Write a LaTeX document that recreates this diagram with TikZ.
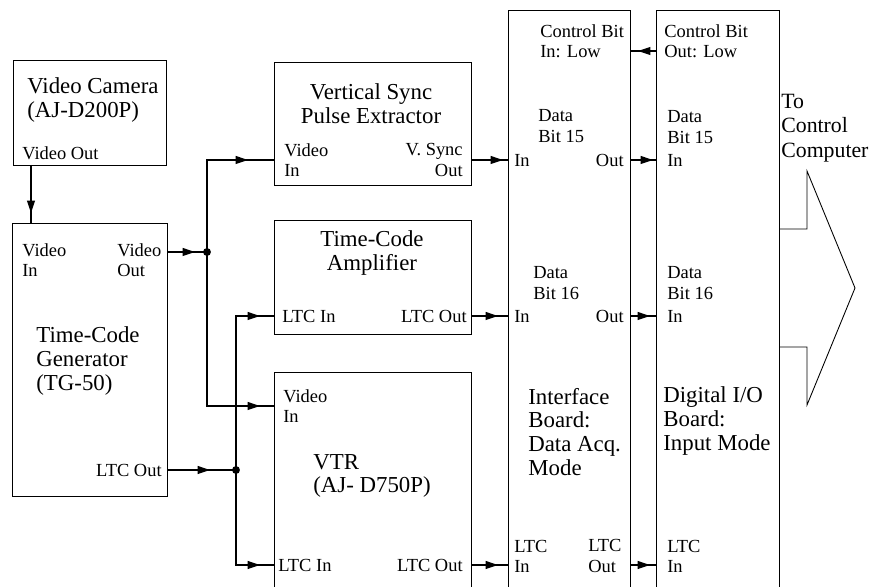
\documentclass[tikz,border=0pt]{standalone}
\usepackage{fontspec}
\setmainfont{Liberation Serif}
\usetikzlibrary{arrows.meta,decorations.markings}

\tikzset{
    blk/.style={draw, line width=0.6pt, rectangle, anchor=north west, inner sep=0pt},
    lbl/.style={inner sep=0pt, font=\fontsize{10.5}{11.5}\selectfont, align=left},
    ttl/.style={inner sep=0pt, font=\fontsize{13}{13.6}\selectfont, align=left},
    dot/.style={circle, fill, inner sep=0pt, minimum size=4.5pt},
    sig/.style={line width=0.6pt, postaction={decorate},
        decoration={markings, mark=at position -#1 with {\arrow{Triangle[length=7pt,width=4.5pt]}}}},
    sig/.default=0.2cm
}

\begin{document}
\begin{tikzpicture}[x=0.02cm, y=-0.02cm]
    \useasboundingbox (0,0) rectangle (873,587);

    \node[blk, minimum width=3.06cm, minimum height=2.1cm] (cam) at (13,60) {};
    \node[ttl, anchor=west] (camname) at (27,100) {Video Camera\\(AJ-D200P)};
    \node[lbl, anchor=west] (camout) at (22,153) {Video Out};

    \node[blk, minimum width=3.1cm, minimum height=5.46cm] (tg) at (12,223) {};
    \node[lbl, anchor=west] (tgvin) at (22,260) {Video\\In};
    \node[lbl, anchor=west] (tgvout) at (117,260) {Video\\Out};
    \node[ttl, anchor=west] (tgname) at (36,361) {Time-Code\\Generator\\(TG-50)};
    \node[lbl, anchor=east] (tglout) at (162,470) {LTC Out};

    \node[blk, minimum width=3.94cm, minimum height=2.46cm] (vs) at (274,62) {};
    \node[ttl, align=center] (vsname) at (371,104) {Vertical Sync\\Pulse Extractor};
    \node[lbl, anchor=west] (vsvin) at (284,160) {Video\\In};
    \node[lbl, anchor=east, align=right] (vsout) at (463,160) {V. Sync\\Out};

    \node[blk, minimum width=3.94cm, minimum height=2.28cm] (tca) at (274,220) {};
    \node[ttl, align=center] (tcaname) at (372,253) {Time-Code\\Amplifier};
    \node[lbl, anchor=west] (tcalin) at (282,316) {LTC In};
    \node[lbl, anchor=east] (tcalout) at (467,316) {LTC Out};

    \node[blk, minimum width=3.94cm, minimum height=4.8cm] (vtr) at (274,372) {};
    \node[lbl, anchor=west] (vtrvin) at (283,406) {Video\\In};
    \node[ttl, anchor=west] (vtrname) at (313,476) {VTR\\(AJ- D750P)};
    \node[lbl, anchor=west] (vtrlin) at (278,565) {LTC In};
    \node[lbl, anchor=east] (vtrlout) at (463,565) {LTC Out};

    \node[blk, minimum width=2.44cm, minimum height=12cm] (ib) at (508,10) {};
    \node[lbl, anchor=west] (ibctl) at (540,41) {Control Bit\\In: Low};
    \node[lbl, anchor=west] (ibd15) at (538,126) {Data\\Bit 15};
    \node[lbl, anchor=west] (ibin15) at (514,160) {In};
    \node[lbl, anchor=east] (ibout15) at (624,160) {Out};
    \node[lbl, anchor=west] (ibd16) at (533,283) {Data\\Bit 16};
    \node[lbl, anchor=west] (ibin16) at (514,316) {In};
    \node[lbl, anchor=east] (ibout16) at (624,316) {Out};
    \node[ttl, anchor=west] (ibname) at (528,432) {Interface\\Board:\\Data Acq.\\Mode};
    \node[lbl, anchor=west] (iblin) at (514,556) {LTC\\In};
    \node[lbl, anchor=west] (iblout) at (588,556) {LTC\\Out};

    \node[blk, minimum width=2.46cm, minimum height=12cm] (dio) at (656,10) {};
    \node[lbl, anchor=west] (dioctl) at (664,41) {Control Bit\\Out: Low};
    \node[lbl, anchor=west] (diod15) at (667,127) {Data\\Bit 15};
    \node[lbl, anchor=west] (dioin15) at (667,160) {In};
    \node[lbl, anchor=west] (diod16) at (667,283) {Data\\Bit 16};
    \node[lbl, anchor=west] (dioin16) at (667,316) {In};
    \node[ttl, anchor=west] (dioname) at (663,421) {Digital I/O\\Board:\\Input Mode};
    \node[lbl, anchor=west] (diolin) at (667,556) {LTC\\In};

    \node[ttl, anchor=west, font=\fontsize{12.4}{14}\selectfont] (pc) at (781,128) {To\\Control\\Computer};

    \node[dot] (j1) at (207,252) {};
    \node[dot] (j2) at (236,470) {};
    \coordinate (camport) at (31,165);
    \coordinate (ctl) at (643,51);

    \draw[sig] (camport) -- (camport |- tg.north);
    \draw[sig=0.24cm] (tg.east |- j1) -- (j1.center);
    \draw[sig=0.52cm] (j1.center) |- (vs.west |- vsvin);
    \draw[sig=0.28cm] (j1.center) |- (vtr.west |- vtrvin);
    \draw[sig=0.52cm] (tg.east |- j2) -- (j2.center);
    \draw[sig=0.28cm] (j2.center) |- (tca.west |- tcalin);
    \draw[sig=0.28cm] (j2.center) |- (vtr.west |- vtrlin);
    \draw[sig=0.1cm] (vs.east |- vsout) -- (ib.west |- vsout);
    \draw[sig] (tca.east |- tcalout) -- (ib.west |- tcalout);
    \draw[sig] (vtr.east |- vtrlout) -- (ib.west |- vtrlout);
    \draw[sig=0.14cm] (dio.west |- ctl) -- (ib.east |- ctl);
    \draw[sig=0.06cm] (ib.east |- dioin15) -- (dio.west |- dioin15);
    \draw[sig=0.12cm] (ib.east |- dioin16) -- (dio.west |- dioin16);
    \draw[sig=0.12cm] (ib.east |- vtrlout) -- (dio.west |- vtrlout);

    \draw[line width=0.5pt] (dio.east |- 0,229) -- (807,229) -- (807,171) -- (855,288)
        -- (807,405) -- (807,347) -- (dio.east |- 0,347);
\end{tikzpicture}
\end{document}
